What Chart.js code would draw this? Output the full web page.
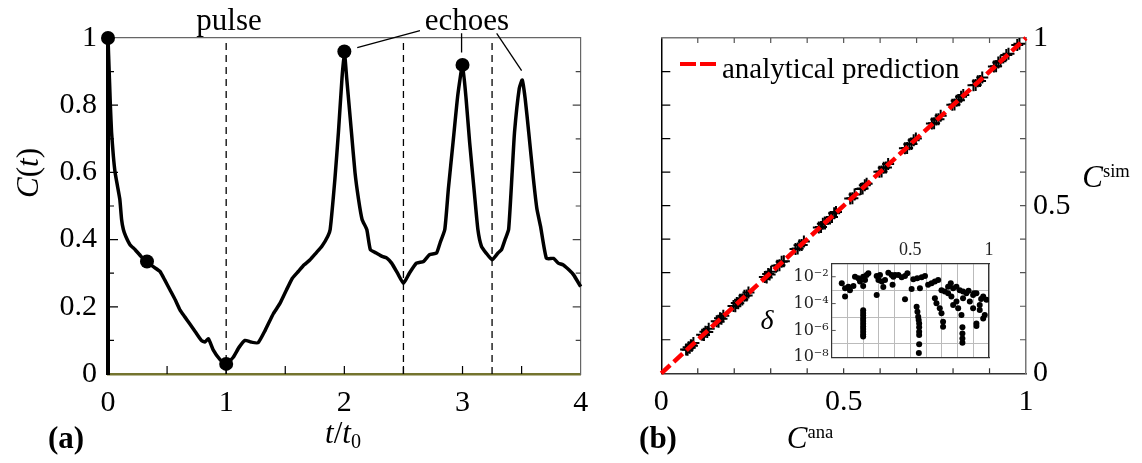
<!DOCTYPE html>
<html>
<head>
<meta charset="utf-8">
<script src="https://cdn.jsdelivr.net/npm/chart.js@4.4.0/dist/chart.umd.min.js"></script>
<style>
  body { margin: 0; background: #fff; }
  .figure { position: relative; width: 1142px; height: 463px; font-family: "Liberation Serif", serif; color: #000; overflow: hidden; }
  .figure canvas { position: absolute; }
  .txt { position: absolute; white-space: nowrap; font-size: 31px; line-height: 30px; }
  .mid { transform: translateX(-50%); }
  .legend-line { position: absolute; left: 680px; top: 62px; width: 36px; height: 4px;
    background: linear-gradient(to right, #ff0000 0 16px, transparent 16px 20px, #ff0000 20px 36px); }
  sup { font-size: 60%; font-style: normal; vertical-align: 0.55em; line-height: 0; }
  sub { font-size: 65%; vertical-align: -0.25em; line-height: 0; }
</style>
</head>
<body>
<div class="figure">
  <canvas id="pulseChart" width="620" height="463" style="left:0;top:0"></canvas>
  <canvas id="compareChart" width="522" height="463" style="left:620px;top:0"></canvas>
  <canvas id="deltaChart" width="220" height="135" style="left:780px;top:240px"></canvas>

  <div class="txt mid" style="left:229px;top:5px">pulse</div>
  <div class="txt mid" style="left:467px;top:5px">echoes</div>
  <div class="txt" style="left:28px;top:173px;transform:translate(-50%,-50%) rotate(-90deg)"><i>C</i>(<i>t</i>)</div>
  <div class="txt mid" style="left:343px;top:418px"><i>t</i>/<i>t</i><sub>0</sub></div>
  <div class="txt mid" style="left:66px;top:423px;font-weight:bold">(a)</div>
  <div class="txt mid" style="left:658px;top:423px;font-weight:bold">(b)</div>
  <div class="txt mid" style="left:810px;top:423px"><i>C</i><sup>ana</sup></div>
  <div class="txt mid" style="left:1106px;top:162px"><i>C</i><sup>sim</sup></div>
  <div class="txt mid" style="left:767px;top:305px;font-size:28px"><i>δ</i></div>
  <div class="legend-line"></div>
  <div class="txt" style="left:722px;top:53px;font-size:29px">analytical prediction</div>
</div>
<script>
  // panel (a): correlation C(t) vs t/t0
  let tValues = [0, 0.005, 0.012, 0.02, 0.03, 0.045, 0.06, 0.08, 0.1, 0.115, 0.13, 0.15, 0.186, 0.23, 0.28, 0.33,
    0.38, 0.44, 0.48, 0.525, 0.57, 0.61, 0.65, 0.69, 0.74, 0.79, 0.82, 0.85, 0.89, 0.95, 1.0, 1.06, 1.11, 1.16,
    1.21, 1.27, 1.33, 1.4, 1.455, 1.51, 1.56, 1.61, 1.66, 1.71, 1.76, 1.81, 1.86, 1.88, 1.92, 1.95, 1.98, 2.0,
    2.02, 2.06, 2.09, 2.12, 2.15, 2.19, 2.22, 2.27, 2.32, 2.36, 2.4, 2.45, 2.5, 2.55, 2.61, 2.67, 2.72, 2.78,
    2.81, 2.85, 2.88, 2.92, 2.96, 3.0, 3.03, 3.06, 3.1, 3.13, 3.16, 3.2, 3.25, 3.3, 3.33, 3.36, 3.39, 3.42,
    3.44, 3.48, 3.505, 3.53, 3.56, 3.6, 3.63, 3.66, 3.71, 3.77, 3.81, 3.85, 3.9, 3.94, 4.0];
  let cValues = [1.0, 0.95, 0.88, 0.8, 0.72, 0.65, 0.6, 0.56, 0.52, 0.46, 0.43, 0.41, 0.385, 0.37, 0.35, 0.335,
    0.32, 0.305, 0.28, 0.25, 0.22, 0.19, 0.17, 0.15, 0.125, 0.1, 0.095, 0.105, 0.072, 0.042, 0.03, 0.05, 0.08, 0.1,
    0.095, 0.093, 0.13, 0.18, 0.21, 0.25, 0.285, 0.305, 0.325, 0.34, 0.36, 0.38, 0.41, 0.43, 0.58, 0.72, 0.88, 0.96,
    0.88, 0.72, 0.6, 0.52, 0.46, 0.43, 0.37, 0.36, 0.35, 0.345, 0.33, 0.3, 0.27, 0.3, 0.33, 0.335, 0.355, 0.36,
    0.39, 0.43, 0.55, 0.69, 0.83, 0.92, 0.82, 0.69, 0.54, 0.43, 0.38, 0.36, 0.34, 0.36, 0.37, 0.4, 0.43, 0.6,
    0.72, 0.85, 0.875, 0.82, 0.72, 0.58, 0.49, 0.44, 0.344, 0.344, 0.33, 0.325, 0.31, 0.295, 0.26];
  let pulseTimes = [1, 2.5, 3.25];
  let markedT = [0, 0.33, 1, 2, 3];
  let markedC = [1, 0.335, 0.03, 0.96, 0.92];
  // "echoes" pointer segments (data coords)
  let pointerStartT = [2.64, 2.992, 3.289];
  let pointerStartC = [1.022, 1.014, 1.014];
  let pointerEndT = [2.109, 2.992, 3.5];
  let pointerEndC = [0.971, 0.957, 0.903];
  let timeTicks = [0, 1, 2, 3, 4];
  let corrTicks = [0, 0.2, 0.4, 0.6, 0.8, 1];

  // panel (b): simulated vs analytical
  let anaValues = [0.068, 0.072, 0.075, 0.078, 0.081, 0.084, 0.088, 0.112, 0.117, 0.121, 0.126, 0.130,
    0.152, 0.157, 0.161, 0.165, 0.170, 0.198, 0.203, 0.207, 0.211, 0.216, 0.222, 0.228, 0.234, 0.239,
    0.284, 0.289, 0.293, 0.297, 0.301, 0.318, 0.324, 0.330, 0.336, 0.368, 0.374, 0.379, 0.385, 0.391,
    0.432, 0.438, 0.443, 0.449, 0.462, 0.468, 0.474, 0.479, 0.518, 0.524, 0.530, 0.547, 0.552, 0.558, 0.563,
    0.598, 0.604, 0.610, 0.616, 0.622, 0.668, 0.674, 0.680, 0.686, 0.692, 0.698, 0.742, 0.748, 0.754, 0.760,
    0.766, 0.798, 0.804, 0.810, 0.816, 0.822, 0.828, 0.856, 0.862, 0.868, 0.874, 0.880, 0.912, 0.918, 0.924,
    0.930, 0.946, 0.952, 0.976, 0.982];
  let simValues = [0.071, 0.070, 0.078, 0.076, 0.084, 0.082, 0.090, 0.115, 0.114, 0.124, 0.123, 0.133,
    0.155, 0.154, 0.164, 0.163, 0.172, 0.201, 0.200, 0.210, 0.209, 0.219, 0.220, 0.231, 0.232, 0.241,
    0.287, 0.286, 0.296, 0.295, 0.303, 0.321, 0.322, 0.333, 0.334, 0.371, 0.372, 0.382, 0.383, 0.393,
    0.435, 0.436, 0.446, 0.447, 0.465, 0.466, 0.477, 0.481, 0.521, 0.522, 0.533, 0.550, 0.551, 0.561, 0.565,
    0.601, 0.602, 0.613, 0.614, 0.624, 0.671, 0.672, 0.683, 0.684, 0.695, 0.700, 0.745, 0.746, 0.757, 0.758,
    0.768, 0.801, 0.802, 0.813, 0.814, 0.825, 0.830, 0.859, 0.860, 0.871, 0.872, 0.882, 0.915, 0.916, 0.927,
    0.931, 0.949, 0.953, 0.979, 0.983];
  let diagonal = [0, 1];
  let unitTicks = [0, 0.5, 1];

  // inset: relative deviation delta vs C^ana
  let deltaAna = [0.064, 0.085, 0.106, 0.116, 0.138, 0.085, 0.148, 0.169, 0.18, 0.2, 0.212, 0.222, 0.233, 0.2,
    0.2, 0.2, 0.2, 0.2, 0.2, 0.2, 0.2, 0.2, 0.2, 0.2, 0.2,
    0.286, 0.297, 0.307, 0.318, 0.328, 0.286, 0.339, 0.36, 0.381, 0.392, 0.403, 0.424, 0.445, 0.466, 0.481,
    0.387, 0.466, 0.519, 0.544, 0.561, 0.572, 0.593, 0.508,
    0.54, 0.545, 0.55, 0.553, 0.556, 0.556, 0.556, 0.556, 0.556, 0.554,
    0.613, 0.635, 0.656, 0.677, 0.698, 0.719, 0.74, 0.757, 0.772, 0.793, 0.814, 0.835, 0.856, 0.899, 0.92,
    0.963, 0.984, 0.74, 0.761, 0.793, 0.835, 0.878, 0.899, 0.941, 0.941, 0.656, 0.666, 0.687, 0.698, 0.708,
    0.708, 0.772, 0.804, 0.825, 0.831, 0.831, 0.831, 0.831, 0.92, 0.92, 0.963, 0.973, 0.87, 0.905, 0.95];
  let deltaValues = [3.2e-3, 1.4e-3, 1.8e-3, 1.0e-3, 2.0e-3, 3.3e-4, 1.0e-2, 7.8e-3, 4.4e-3, 1.0e-2, 5.8e-3,
    1.35e-2, 1.8e-2, 2.0e-3,
    3.2e-5, 2.0e-5, 1.3e-5, 7.9e-6, 5.0e-6, 3.2e-6, 2.0e-6, 1.3e-6, 7.9e-7, 5.0e-7, 3.5e-7,
    1.15e-2, 5.8e-3, 1.35e-2, 4.4e-3, 1.7e-3, 4.4e-4, 5.8e-3, 2.0e-2, 1.35e-2, 1.0e-2, 1.35e-2, 1.35e-2,
    9.1e-3, 1.15e-2, 1.8e-2, 2.5e-3, 2.1e-4, 6.5e-3, 7.8e-3, 1.4e-3, 9.1e-3, 1.15e-2, 1.2e-3,
    5.9e-5, 2.5e-5, 1.05e-5, 5.9e-6, 3.3e-6, 1.7e-6, 7.9e-7, 4.5e-7, 9.5e-8, 2.1e-8,
    2.5e-3, 3.2e-3, 4.4e-3, 5.8e-3, 1.0e-3, 7.8e-4, 1.8e-3, 3.2e-3, 1.4e-3, 1.8e-3, 1.0e-3, 7.8e-4, 5.8e-4,
    4.4e-4, 5.8e-4, 3.3e-4, 1.9e-4, 5.8e-4, 3.3e-4, 1.4e-4, 2.5e-4, 1.4e-4, 4.4e-5, 7.8e-5, 3.3e-5,
    2.5e-4, 1.05e-4, 4.4e-5, 1.9e-5, 4.5e-6, 1.9e-6, 7.8e-5, 4.4e-5, 1.4e-5, 1.7e-6, 5.9e-7, 2.5e-7, 1.2e-7,
    3.3e-6, 2.1e-6, 7.8e-6, 1.4e-5, 9.0e-4, 6.0e-4, 2.2e-4];
  let deltaDecades = [1e-8, 1e-7, 1e-6, 1e-5, 1e-4, 1e-3, 1e-2, 1e-1];

  // inward tick marks
  let tenths = [0.1, 0.2, 0.3, 0.4, 0.5, 0.6, 0.7, 0.8, 0.9];
  let oddTenths = [0.1, 0.3, 0.5, 0.7, 0.9];
  let evenTenths = [0.2, 0.4, 0.6, 0.8];
  let halfSteps = [0.5, 1, 1.5, 2, 2.5, 3, 3.5];
  let evenDecades = [1e-6, 1e-4, 1e-2];

  Chart.defaults.font.family = "Liberation Serif";
  Chart.defaults.color = "#000";
  Chart.defaults.animation = false;

  const plainLabel = (v) => String(Math.round(v * 100) / 100);

  function innerTicks(specs) {
    return {
      id: 'innerTicks',
      afterDatasetsDraw(chart) {
        const ctx = chart.ctx, a = chart.chartArea;
        specs.forEach((s) => {
          const sc = chart.scales[s.scale];
          ctx.save();
          ctx.strokeStyle = s.color;
          ctx.lineWidth = s.width;
          ctx.beginPath();
          s.values.forEach((v) => {
            const p = sc.getPixelForValue(v);
            if (s.side === 'left') { ctx.moveTo(a.left, p); ctx.lineTo(a.left + s.len, p); }
            if (s.side === 'right') { ctx.moveTo(a.right, p); ctx.lineTo(a.right - s.len, p); }
            if (s.side === 'bottom') { ctx.moveTo(p, a.bottom); ctx.lineTo(p, a.bottom - s.len); }
            if (s.side === 'top') { ctx.moveTo(p, a.top); ctx.lineTo(p, a.top + s.len); }
          });
          ctx.stroke();
          ctx.restore();
        });
      }
    };
  }

  function frameAxis(position, size, color, width) {
    return {
      type: 'linear', position: position, min: 0, max: 1,
      ticks: { display: false }, grid: { display: false },
      border: { display: true, color: color, width: width },
      afterFit(s) { if (position === 'top' || position === 'bottom') s.height = size; else s.width = size; }
    };
  }

  function toPoints(xs, ys) {
    return xs.map((x, i) => ({ x: x, y: ys[i] }));
  }

  // ---------- panel (a) ----------
  let pulseDatasets = [
    {
      data: toPoints(markedT, markedC), pointRadius: 7, pointBackgroundColor: '#000',
      pointBorderWidth: 0, showLine: false, clip: false
    },
    {
      data: toPoints(tValues, cValues), showLine: true, borderColor: '#000', borderWidth: 3.5,
      pointRadius: 0, tension: 0.15, clip: false
    }
  ];
  pulseTimes.forEach((t) => {
    pulseDatasets.push({
      data: [{ x: t, y: 0 }, { x: t, y: 1 }], showLine: true, borderColor: '#000', borderWidth: 1.3,
      borderDash: [7, 5], pointRadius: 0
    });
  });
  pointerStartT.forEach((t, i) => {
    pulseDatasets.push({
      data: [{ x: t, y: pointerStartC[i] }, { x: pointerEndT[i], y: pointerEndC[i] }], showLine: true,
      borderColor: '#000', borderWidth: 1.3, pointRadius: 0, clip: false
    });
  });

  new Chart(document.getElementById('pulseChart'), {
    type: 'scatter',
    data: { datasets: pulseDatasets },
    options: {
      responsive: false,
      layout: { padding: { left: 0, top: 38, right: 39.3, bottom: 0 } },
      plugins: { legend: { display: false }, tooltip: { enabled: false } },
      scales: {
        x: {
          type: 'linear', position: 'bottom', min: 0, max: 4,
          afterBuildTicks(s) { s.ticks = timeTicks.map((v) => ({ value: v })); },
          afterFit(s) { s.height = 89; },
          ticks: { font: { size: 30 }, padding: 3, callback: plainLabel },
          grid: { display: false },
          border: { color: '#74742f', width: 2.5 }
        },
        y: {
          type: 'linear', position: 'left', min: 0, max: 1,
          afterBuildTicks(s) { s.ticks = corrTicks.map((v) => ({ value: v })); },
          afterFit(s) { s.width = 108; },
          ticks: { font: { size: 30 }, padding: 11, callback: plainLabel },
          grid: { display: false, drawTicks: false },
          border: { color: '#000', width: 4 }
        },
        xTop: frameAxis('top', 0, '#666', 1.2),
        yRight: frameAxis('right', 0, '#666', 1.2)
      }
    },
    plugins: [innerTicks([
      { scale: 'y', side: 'left', values: evenTenths, len: 10, color: '#000', width: 1.2 },
      { scale: 'y', side: 'left', values: oddTenths, len: 6, color: '#000', width: 1.2 },
      { scale: 'yRight', side: 'right', values: evenTenths, len: 8, color: '#444', width: 1.2 },
      { scale: 'yRight', side: 'right', values: oddTenths, len: 5, color: '#444', width: 1.2 },
      { scale: 'x', side: 'bottom', values: halfSteps, len: 8, color: '#000', width: 1.2 }
    ])]
  });

  // ---------- panel (b) ----------
  new Chart(document.getElementById('compareChart'), {
    type: 'scatter',
    data: {
      datasets: [
        {
          label: 'analytical prediction',
          data: toPoints(diagonal, diagonal), showLine: true, borderColor: '#ff0000', borderWidth: 4.5,
          borderDash: [12, 5], pointRadius: 0, clip: false
        },
        {
          data: toPoints(anaValues, simValues), pointStyle: 'cross', pointRadius: 6,
          borderColor: '#000', pointBorderWidth: 2, showLine: false
        }
      ]
    },
    options: {
      responsive: false,
      layout: { padding: { left: 0, top: 38, right: 0, bottom: 0 } },
      plugins: { legend: { display: false }, tooltip: { enabled: false } },
      scales: {
        x: {
          type: 'linear', position: 'bottom', min: 0, max: 1,
          afterBuildTicks(s) { s.ticks = unitTicks.map((v) => ({ value: v })); },
          afterFit(s) { s.height = 89.7; },
          ticks: { font: { size: 30 }, padding: 3, callback: plainLabel },
          grid: { display: false },
          border: { color: '#333', width: 1.5 }
        },
        y: frameAxis('left', 41.3, '#000', 1.5),
        yRight: {
          type: 'linear', position: 'right', min: 0, max: 1,
          afterBuildTicks(s) { s.ticks = unitTicks.map((v) => ({ value: v })); },
          afterFit(s) { s.width = 116; },
          ticks: { font: { size: 30 }, padding: 7, callback: plainLabel },
          grid: { display: false, drawTicks: false },
          border: { color: '#777', width: 1.5 }
        },
        xTop: frameAxis('top', 0, '#777', 1.5)
      }
    },
    plugins: [innerTicks([
      { scale: 'y', side: 'left', values: tenths, len: 9, color: '#000', width: 1.2 },
      { scale: 'yRight', side: 'right', values: tenths, len: 6, color: '#555', width: 1.2 },
      { scale: 'x', side: 'bottom', values: tenths, len: 5, color: '#333', width: 1.2 },
      { scale: 'xTop', side: 'top', values: tenths, len: 5, color: '#555', width: 1.2 }
    ])]
  });

  // ---------- inset ----------
  const supDigits = { '1': '¹', '2': '²', '3': '³', '4': '⁴', '5': '⁵', '6': '⁶', '7': '⁷', '8': '⁸' };
  new Chart(document.getElementById('deltaChart'), {
    type: 'scatter',
    data: {
      datasets: [{
        data: toPoints(deltaAna, deltaValues), pointRadius: 3, pointBackgroundColor: '#000',
        pointBorderWidth: 0
      }]
    },
    options: {
      responsive: false,
      layout: { padding: { left: 0, top: 0, right: 11, bottom: 17.7 } },
      plugins: { legend: { display: false }, tooltip: { enabled: false } },
      scales: {
        x: {
          type: 'linear', position: 'top', min: 0, max: 1,
          afterBuildTicks(s) { s.ticks = [0, ...tenths, 1].map((v) => ({ value: v })); },
          afterFit(s) { s.height = 23.3; },
          ticks: {
            font: { size: 18 }, color: '#222', padding: 2, maxRotation: 0, autoSkip: false,
            callback: (v) => (Math.abs(v - 0.5) < 1e-6 ? '0.5' : (Math.abs(v - 1) < 1e-6 ? '1' : ''))
          },
          grid: { color: '#bbb', lineWidth: 1, drawTicks: false },
          border: { color: '#333', width: 1.2 }
        },
        y: {
          type: 'logarithmic', position: 'left', min: 1e-8, max: 1e-1,
          afterBuildTicks(s) { s.ticks = deltaDecades.map((v) => ({ value: v })); },
          afterFit(s) { s.width = 51.7; },
          ticks: {
            font: { family: 'DejaVu Serif', size: 16 }, color: '#222', padding: 3, autoSkip: false,
            callback: (v) => {
              const e = Math.round(-Math.log10(v));
              return e % 2 === 0 && e < 9 && e > 1 ? '10⁻' + supDigits[String(e)] : '';
            }
          },
          grid: {
            drawTicks: false, lineWidth: 1,
            color: (c) => (Math.round(-Math.log10(c.tick.value)) % 2 === 1 && c.tick.value < 0.05 ? '#bbb' : 'rgba(0,0,0,0)')
          },
          border: { color: '#333', width: 1.2 }
        },
        xBottom: frameAxis('bottom', 0, '#333', 1.2),
        yRight: frameAxis('right', 0, '#333', 1.2)
      }
    },
    plugins: [innerTicks([
      { scale: 'y', side: 'left', values: evenDecades, len: 4, color: '#555', width: 1 }
    ])]
  });
</script>
</body>
</html>
